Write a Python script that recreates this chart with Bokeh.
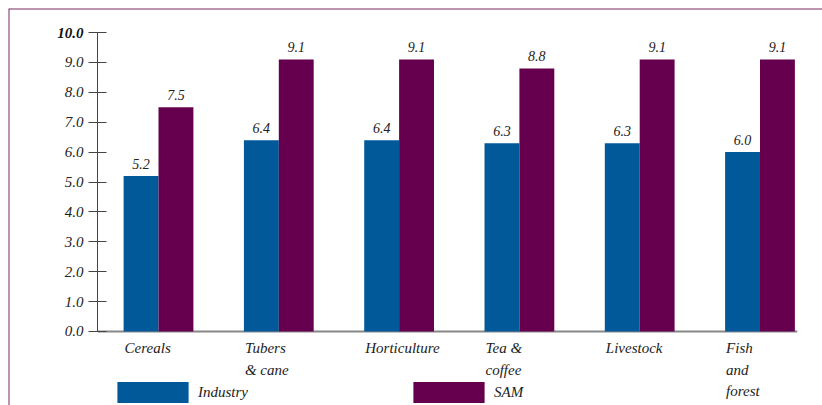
from bokeh.plotting import figure
from bokeh.models import (ColumnDataSource, Range1d, LinearAxis, FixedTicker, Span,
                          Legend, LegendItem, CustomJSTickFormatter)
from bokeh.core.properties import value
from bokeh.embed import file_html
from bokeh.resources import INLINE

categories = ["Cereals", "Tubers\n& cane", "Horticulture", "Tea &\ncoffee", "Livestock", "Fish\nand\nforest"]
industry = [5.2, 6.4, 6.4, 6.3, 6.3, 6.0]
sam = [7.5, 9.1, 9.1, 8.8, 9.1, 9.1]
y_ticks = [0, 1, 2, 3, 4, 5, 6, 7, 8, 9, 10]

BLUE = "#01599a"
PURPLE = "#66004e"
BORDER = "#7a2a60"
FONT = value("Liberation Serif")
bw = 0.29

idx = list(range(len(categories)))
src = ColumnDataSource(dict(
    idx=idx,
    xi=[i - bw / 2 for i in idx],
    xs=[i + bw / 2 for i in idx],
    xl=[i - bw for i in idx],
    industry=industry,
    sam=sam,
    ilab=[f"{v:.1f}" for v in industry],
    slab=[f"{v:.1f}" for v in sam],
    cat=categories,
))

p = figure(width=822, height=405, output_backend="svg", toolbar_location=None,
           x_axis_location=None, y_axis_location=None,
           min_border_left=8, min_border_top=8, min_border_right=0, min_border_bottom=0,
           x_range=Range1d(-1.2469, 5.5195), y_range=Range1d(-2.475, 10.803))
p.grid.visible = False
p.outline_line_color = None
p.background_fill_color = "white"
p.border_fill_color = "white"

axis_x = -0.507
yax = LinearAxis(fixed_location=axis_x, bounds=(0, 10),
                 ticker=FixedTicker(ticks=y_ticks),
                 formatter=CustomJSTickFormatter(code="return tick == 10 ? '' : tick.toFixed(1);"))
yax.axis_line_color = "#444444"
yax.major_tick_line_color = "#444444"
yax.major_tick_in = 9
yax.major_tick_out = 9
yax.minor_tick_line_color = None
yax.major_label_text_font = "Liberation Serif"
yax.major_label_text_font_style = "italic"
yax.major_label_text_font_size = "15px"
yax.major_label_text_color = "#222222"
yax.major_label_standoff = 5
p.add_layout(yax, "left")

# bold top tick label
p.text(x=[axis_x], y=[y_ticks[-1]], text=[f"{y_ticks[-1]:.1f}"], text_font=FONT,
       text_font_style="bold italic", text_font_size="15px", text_color="#111111",
       text_align="right", text_baseline="middle", x_offset=-14)

# baseline
p.line(x=[axis_x, idx[-1] + bw + 0.02], y=[0, 0], line_color="#888888", line_width=2)

r1 = p.vbar(x="xi", top="industry", width=bw, bottom=0, source=src,
            fill_color=BLUE, line_color=None)
r2 = p.vbar(x="xs", top="sam", width=bw, bottom=0, source=src,
            fill_color=PURPLE, line_color=None)

common = dict(text_font=FONT, text_font_style="italic", text_font_size="14px",
              text_color="#222222", text_align="center", text_baseline="bottom")
p.text(x="xi", y="industry", text="ilab", source=src, y_offset=-7, **common)
p.text(x="xs", y="sam", text="slab", source=src, y_offset=-7, **common)

p.text(x="xl", y=0, text="cat", source=src, text_font=FONT, text_font_style="italic",
       text_font_size="15px", text_color="#222222", text_align="left",
       text_baseline="top", y_offset=9, x_offset=1, text_line_height=1.33)

# borders
p.add_layout(Span(location=p.y_range.end, dimension="width", line_color=BORDER, line_width=2))
p.add_layout(Span(location=p.x_range.start, dimension="height", line_color=BORDER, line_width=2))

legend = Legend(items=[LegendItem(label="Industry", renderers=[r1]),
                       LegendItem(label="SAM", renderers=[r2])],
                orientation="horizontal", location=(100, 0),
                glyph_width=89, glyph_height=26, label_standoff=1,
                label_width=190, spacing=16, padding=0, margin=0,
                border_line_color=None, background_fill_alpha=0,
                label_text_font="Liberation Serif", label_text_font_style="italic",
                label_text_font_size="15px", label_text_color="#222222")
p.add_layout(legend)

open("out.html", "w").write(file_html(p, INLINE))
